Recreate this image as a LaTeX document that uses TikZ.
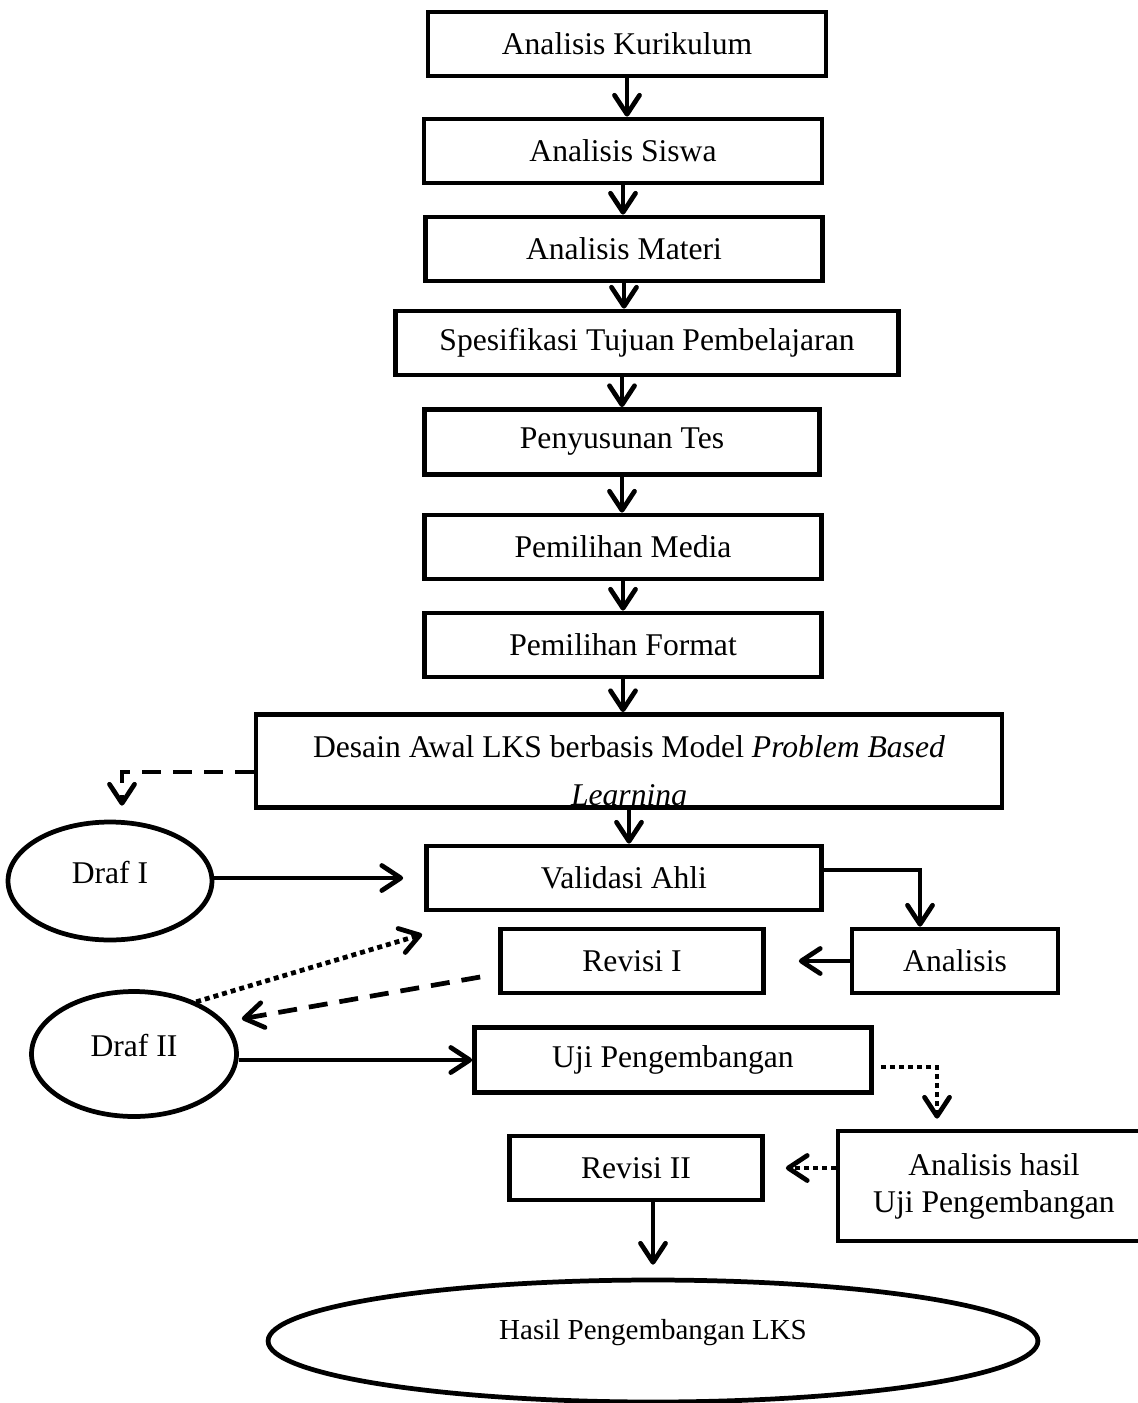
\documentclass[tikz,border=0pt]{standalone}
\usepackage{fontspec}
\setmainfont{Liberation Serif}
\usetikzlibrary{shapes.geometric,arrows.meta}

\begin{document}
\begin{tikzpicture}[x=0.02cm,y=-0.02cm]

\def\lw{2.7pt}
\def\fs{\fontsize{18}{21}\selectfont}

\tikzset{
  box/.style={draw,line width=\lw,minimum height=1.28cm,inner sep=0pt,font=\fs},
  oval/.style={draw,ellipse,line width=\lw,inner sep=0pt,font=\fs,text height=12pt,text depth=9pt},
  txt/.style={inner sep=0pt,font=\fs},
  arr/.style={line width=\lw,-{Straight Barb[round,length=0.38cm,width=0.5cm]}},
  dsh/.style={arr,dash pattern=on 0.38cm off 0.24cm},
  dts/.style={arr,dash pattern=on 0.1cm off 0.08cm}
}

\useasboundingbox (0,0) rectangle (1137,1403);

%% main column
\node[box,minimum width=7.96cm] (kur) at (627,44) {Analisis Kurikulum};
\node[box,minimum width=7.96cm] (sis) at (623,151) {Analisis Siswa};
\node[box,minimum width=7.94cm] (mat) at (624,249) {Analisis Materi};
\node[box,minimum width=10.06cm] (spes) at (647,343) {Spesifikasi Tujuan Pembelajaran};
\node[box,minimum width=7.9cm,minimum height=1.3cm] (tes) at (622,442) {Penyusunan Tes};
\node[box,minimum width=7.94cm] (med) at (623,547) {Pemilihan Media};
\node[box,minimum width=7.94cm] (fmt) at (623,645) {Pemilihan Format};

\node[box,minimum width=14.92cm,minimum height=1.86cm] (des) at (629,761) {};
\begin{scope}
\clip ([yshift=1.4pt]des.south west) rectangle (des.north east);
\node[txt,anchor=base] (des1) at (629,757) {Desain Awal LKS berbasis Model \textit{Problem Based}};
\node[txt,anchor=base] (des2) at (629,805) {\textit{Learning}};
\end{scope}

\node[box,minimum width=7.9cm] (val) at (624,878) {Validasi Ahli};
\node[box,minimum width=5.26cm] (rev1) at (632,961) {Revisi I};
\node[box,minimum width=4.12cm] (ana) at (955,961) {Analisis};
\node[box,minimum width=7.94cm,minimum height=1.3cm] (uji) at (673,1060) {Uji Pengembangan};
\node[box,minimum width=6.24cm,minimum height=2.2cm,align=center] (ah) at (994,1186) {Analisis hasil\\Uji Pengembangan};
\node[box,minimum width=5.06cm] (rev2) at (636,1168) {Revisi II};

%% ovals
\node[oval,minimum width=4.08cm,minimum height=2.36cm] (d1) at (110,881) {Draf I};
\node[oval,minimum width=4.1cm,minimum height=2.5cm] (d2) at (134,1054) {Draf II};
\node[oval,minimum width=15.4cm,minimum height=2.44cm,font=\fontsize{16.5}{19}\selectfont,text height=11pt,text depth=12.4pt] (hasil) at (653,1341) {Hasil Pengembangan LKS};

\draw[arr] (kur.south) -- (kur.south |- sis.north);
\draw[arr] (sis.south) -- (sis.south |- mat.north);
\draw[arr] (mat.south) -- (mat.south |- spes.north);
\draw[arr] (tes.north |- spes.south) -- (tes.north);
\draw[arr] (tes.south) -- (tes.south |- med.north);
\draw[arr] (med.south) -- (med.south |- fmt.north);
\draw[arr] (fmt.south) -- (fmt.south |- des.north);
\draw[arr] (des.south) -- (des.south |- val.north);

\draw[dsh,shorten >=0.28cm] ([yshift=-0.22cm]des.west) -| ([xshift=0.24cm]d1.north);
\draw[arr,shorten >=0.42cm] (d1.east |- val.west) -- (val.west);
\draw[arr] ([yshift=0.16cm]val.east) -| ([xshift=-0.7cm]ana.north);
\draw[arr,shorten >=0.66cm] (ana.west) -- (rev1.east);

\draw[dts] (d2.40) -- ([shift={(-0.04cm,-0.44cm)}]val.south west);
\draw[dsh] ([shift={(-0.36cm,-0.32cm)}]rev1.west) -- ([shift={(0.3cm,0.1cm)}]d2.18);
\draw[arr] (d2.east |- uji.west) -- (uji.west);

\draw[dts,shorten >=0.2cm] ([shift={(0.14cm,-0.14cm)}]uji.east) -| ([xshift=-1.14cm]ah.north);
\draw[dts,shorten >=0.42cm] (ah.west |- rev2.east) -- (rev2.east);
\draw[arr,shorten >=0.26cm] (rev2.south -| hasil.north) -- (hasil.north);

\end{tikzpicture}
\end{document}
